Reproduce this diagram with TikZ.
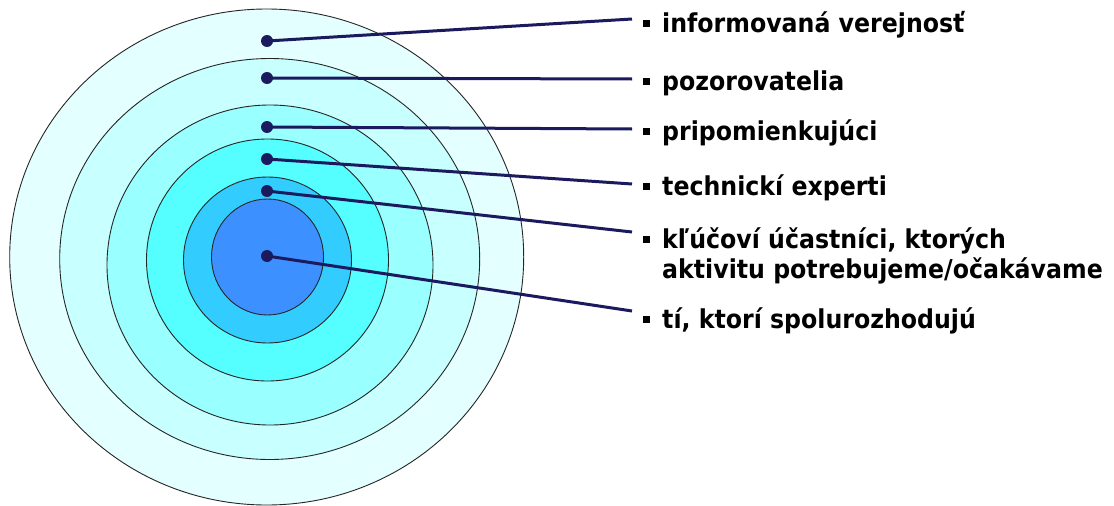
\documentclass[tikz,border=0pt]{standalone}
\usepackage{fontspec}
\setmainfont{DejaVu Sans}[FakeStretch=0.91]
\definecolor{navy}{HTML}{1B1A5E}
\definecolor{cA}{HTML}{E3FFFF}
\definecolor{cB}{HTML}{C8FFFF}
\definecolor{cC}{HTML}{99FFFF}
\definecolor{cD}{HTML}{55FFFF}
\definecolor{cE}{HTML}{33CCFF}
\definecolor{cF}{HTML}{3D90FF}
\tikzset{
  ring/.style={draw=black!85, line width=0.9pt},
  dotmark/.style={circle, fill=navy, inner sep=0pt, minimum size=12pt},
  conn/.style={draw=navy, line width=3pt},
  lbl/.style={anchor=base west, inner sep=0pt, align=left, font=\fontsize{26}{30}\selectfont\bfseries},
}
\newcommand{\bul}{\raisebox{5pt}{\rule{7pt}{7pt}}\hspace{12pt}}
\begin{document}
\begin{tikzpicture}[x=1pt, y=-1pt]
\useasboundingbox (0,0) rectangle (1114,506);
\fill[white] (0,0) rectangle (1114,506);
% rings
\draw[ring, fill=cA] (266.7,257) ellipse [x radius=257, y radius=248];
\draw[ring, fill=cB] (269.7,259) ellipse [x radius=210, y radius=200.5];
\draw[ring, fill=cC] (270,265) ellipse [x radius=163, y radius=160];
\draw[ring, fill=cD] (267.5,260) ellipse [x radius=121, y radius=121];
\draw[ring, fill=cE] (267.5,260) ellipse [x radius=84, y radius=83];
\draw[ring, fill=cF] (267.5,257) ellipse [x radius=56, y radius=58];
% labels
\node[lbl] (l1) at (643,32) {\bul informovaná verejnosť};
\node[lbl] (l2) at (643,90) {\bul pozorovatelia};
\node[lbl] (l3) at (643,140) {\bul pripomienkujúci};
\node[lbl] (l4) at (643,195) {\bul technickí experti};
\node[lbl] (l5) at (643,248) {\bul kľúčoví účastníci, ktorých};
\node[lbl] (l5b) at (662,278) {aktivitu potrebujeme/očakávame};
\node[lbl] (l6) at (643,328) {\bul tí, ktorí spolurozhodujú};
% connector ends
\coordinate (e1) at (632,19);
\coordinate (e2) at (632,79);
\coordinate (e3) at (632,129);
\coordinate (e4) at (632,184);
\coordinate (e5) at (632,232);
\coordinate (e6) at (632,311);
% dots
\node[dotmark] (d1) at (267,41) {};
\node[dotmark] (d2) at (267,78) {};
\node[dotmark] (d3) at (267,127) {};
\node[dotmark] (d4) at (267,159) {};
\node[dotmark] (d5) at (267,191) {};
\node[dotmark] (d6) at (267,256) {};
\foreach \i in {1,...,6} \draw[conn] (d\i.center) -- (e\i);
\end{tikzpicture}
\end{document}
